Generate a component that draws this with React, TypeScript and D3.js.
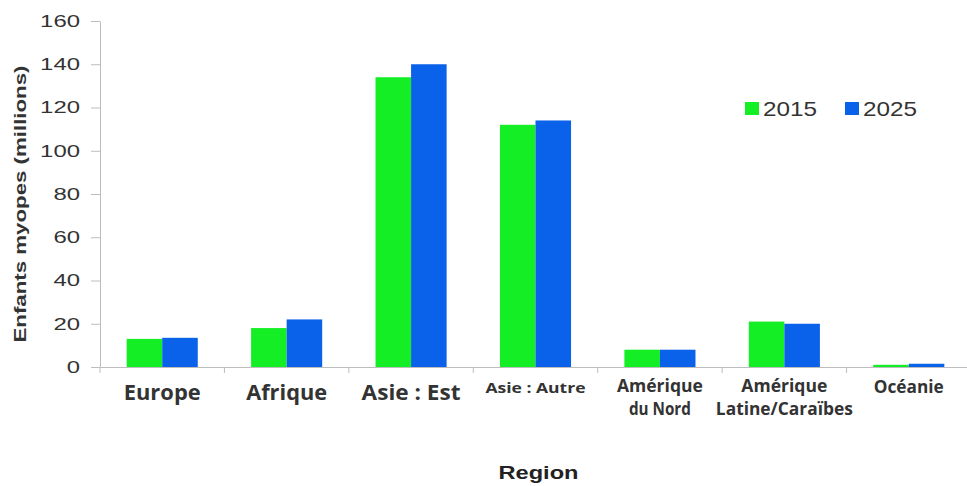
import React, { useRef, useEffect } from 'react';
import * as d3 from 'd3';

const regions = ['Europe', 'Afrique', 'Asie : Est', 'Asie : Autre', 'Amérique du Nord', 'Amérique Latine/Caraïbes', 'Océanie'];
const regionLines = [['Europe'], ['Afrique'], ['Asie : Est'], ['Asie : Autre'], ['Amérique', 'du Nord'], ['Amérique', 'Latine/Caraïbes'], ['Océanie']];
const years = ['2015', '2025'];
const values2015 = [13, 18, 134, 112, 8, 21, 1];
const values2025 = [13.5, 22, 140, 114, 8, 20, 1.5];
const yTicks = [0, 20, 40, 60, 80, 100, 120, 140, 160];
const colors = ['#14ee24', '#0b62ea'];

// label widths measured off the (horizontally stretched) picture
const labelStyle: Record<string, { size: number; widths: number[] }> = {
  'Europe': { size: 21, widths: [77] },
  'Afrique': { size: 21, widths: [81] },
  'Asie : Est': { size: 21, widths: [99] },
  'Asie : Autre': { size: 15, widths: [100] },
  'Amérique du Nord': { size: 17, widths: [86, 62] },
  'Amérique Latine/Caraïbes': { size: 17, widths: [86, 137] },
  'Océanie': { size: 17, widths: [70] },
};

const App: React.FC = () => {
  const ref = useRef<SVGSVGElement>(null);

  useEffect(() => {
    if (!ref.current) return;
    const svg = d3.select(ref.current);
    svg.selectAll('*').remove();

    const left = 100, right = 971, top = 21, bottom = 367;

    const x = d3.scaleBand().domain(regions).range([left, right]);
    const x1 = d3.scaleBand().domain(years).range([0, x.bandwidth()]).paddingOuter(0.75).paddingInner(0);
    const y = d3.scaleLinear().domain([0, 160]).range([bottom, top]);

    // y axis
    const yAxis = svg.append('g').attr('transform', `translate(${left},0)`)
      .call(d3.axisLeft(y).tickValues(yTicks).tickSize(9).tickSizeOuter(0).tickPadding(11));
    yAxis.select('.domain').attr('stroke', '#bdbdbd');
    yAxis.selectAll('.tick line').attr('stroke', '#bdbdbd');
    yAxis.selectAll<SVGTextElement, number>('.tick text')
      .attr('font-family', 'Liberation Sans, Arial, sans-serif')
      .attr('font-size', 17)
      .attr('fill', '#333')
      .attr('textLength', d => String(d).length * 13.3)
      .attr('lengthAdjust', 'spacingAndGlyphs');

    // x axis
    const xAxis = svg.append('g').attr('transform', `translate(0,${bottom})`)
      .call(d3.axisBottom(x).tickSize(0).tickFormat(() => ''));
    xAxis.select('.domain').attr('stroke', '#bdbdbd');
    xAxis.selectAll('.tick').remove();
    svg.append('g').selectAll('line')
      .data(regions)
      .enter()
      .append('line')
      .attr('x1', d => x(d) || 0)
      .attr('x2', d => x(d) || 0)
      .attr('y1', bottom)
      .attr('y2', bottom + 6)
      .attr('stroke', '#bdbdbd');

    // bars
    const groups = svg.append('g').selectAll('g')
      .data(regions)
      .enter()
      .append('g')
      .attr('transform', d => `translate(${x(d)},0)`);
    groups.selectAll('rect')
      .data((d, i) => [values2015[i], values2025[i]].map((v, j) => ({ year: years[j], v, j })))
      .enter()
      .append('rect')
      .attr('x', d => x1(d.year) || 0)
      .attr('width', x1.bandwidth())
      .attr('y', d => y(d.v))
      .attr('height', d => bottom - y(d.v))
      .attr('fill', d => colors[d.j]);

    // category labels
    regions.forEach((r, i) => {
      const lines = regionLines[i];
      const st = labelStyle[r];
      const cx = (x(r) || 0) + x.bandwidth() / 2;
      lines.forEach((l, k) => {
        const baseY = lines.length === 1 ? (st.size > 18 ? 400 : 393) : 392 + k * 23;
        svg.append('text')
          .attr('x', cx)
          .attr('y', baseY)
          .attr('text-anchor', 'middle')
          .attr('font-family', '"Open Sans", Lato, sans-serif')
          .attr('font-weight', 'bold')
          .attr('font-size', st.size)
          .attr('fill', '#333')
          .attr('textLength', st.widths[k])
          .attr('lengthAdjust', 'spacingAndGlyphs')
          .text(l);
      });
    });

    // axis titles
    svg.append('text')
      .attr('transform', 'translate(26,204) rotate(-90)')
      .attr('text-anchor', 'middle')
      .attr('font-family', 'Liberation Sans, Arial, sans-serif')
      .attr('font-weight', 'bold')
      .attr('font-size', 17)
      .attr('fill', '#333')
      .attr('textLength', 277)
      .attr('lengthAdjust', 'spacingAndGlyphs')
      .text('Enfants myopes (millions)');
    svg.append('text')
      .attr('x', (left + right) / 2 + 3)
      .attr('y', 479)
      .attr('text-anchor', 'middle')
      .attr('font-family', 'Liberation Sans, Arial, sans-serif')
      .attr('font-weight', 'bold')
      .attr('font-size', 18)
      .attr('fill', '#222')
      .attr('textLength', 80)
      .attr('lengthAdjust', 'spacingAndGlyphs')
      .text('Region');

    // legend
    const legendX = [745, 845];
    const legend = svg.append('g').selectAll('g')
      .data(years)
      .enter()
      .append('g')
      .attr('transform', (d, i) => `translate(${legendX[i]},102)`);
    legend.append('rect').attr('width', 14).attr('height', 13).attr('fill', (d, i) => colors[i]);
    legend.append('text')
      .attr('x', 18)
      .attr('y', 14)
      .attr('font-family', 'Liberation Sans, Arial, sans-serif')
      .attr('font-size', 21)
      .attr('fill', '#333')
      .attr('textLength', 54)
      .attr('lengthAdjust', 'spacingAndGlyphs')
      .text(d => d);
  }, []);

  return (
    <svg ref={ref} width={967} height={486} style={{ position: 'absolute', left: 0, top: 0, background: '#fff' }} />
  );
};

export default App;
